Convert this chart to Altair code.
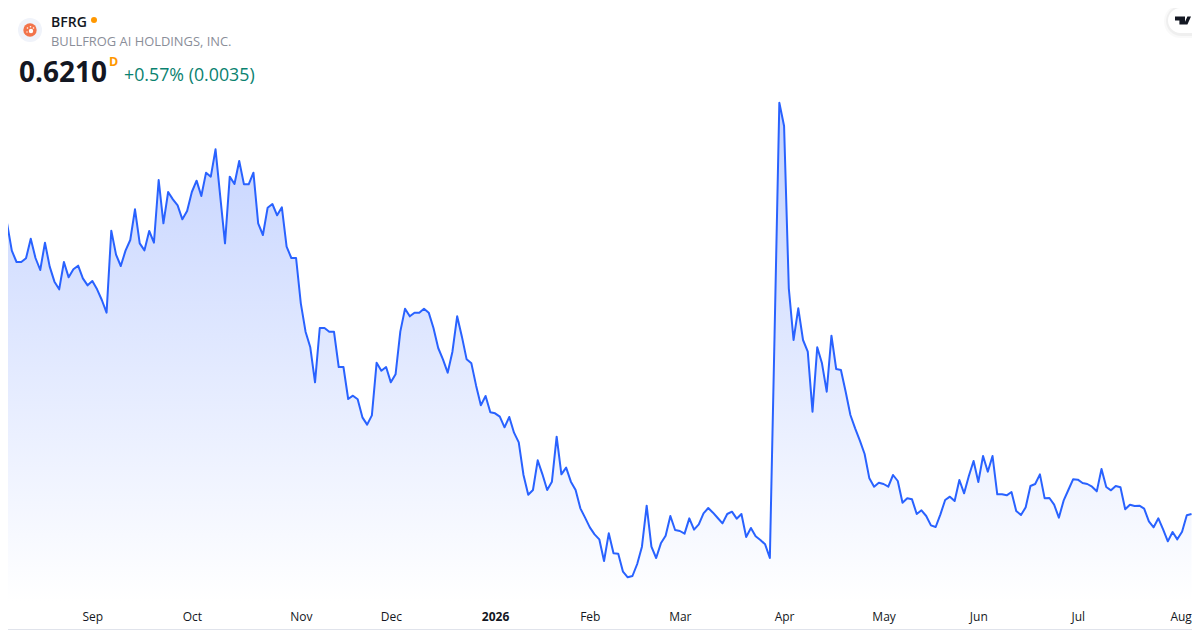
import altair as alt

# Closing prices (one per trading day, 252 sessions)
prices_aug_oct = [
    1.461, 1.493, 1.411, 1.377, 1.377, 1.388, 1.447, 1.389, 1.353, 1.435,
    1.363, 1.318, 1.295, 1.377, 1.331, 1.355, 1.366, 1.328, 1.307, 1.320,
    1.295, 1.263, 1.225, 1.471, 1.399, 1.365, 1.411, 1.443, 1.535, 1.433,
    1.412, 1.470, 1.435, 1.623, 1.493, 1.587, 1.565, 1.547, 1.505, 1.530,
    1.587, 1.621, 1.575, 1.645, 1.633, 1.715, 1.573, 1.433, 1.633, 1.611,
    1.680, 1.610, 1.610, 1.645, 1.493, 1.458, 1.540, 1.551, 1.517, 1.541,
    1.423, 1.389, 1.389,
]
prices_nov_jan = [
    1.253, 1.168, 1.121, 1.016, 1.179, 1.179, 1.168, 1.168, 1.062, 1.062,
    0.966, 0.976, 0.965, 0.911, 0.889, 0.917, 1.075, 1.051, 1.062, 1.016,
    1.040, 1.168, 1.237, 1.214, 1.225, 1.225, 1.237, 1.225, 1.179, 1.119,
    1.085, 1.045, 1.108, 1.214, 1.153, 1.085, 1.073, 1.006, 0.947, 0.975,
    0.926, 0.923, 0.913, 0.881, 0.912, 0.865, 0.836, 0.738, 0.679, 0.693,
    0.782, 0.740, 0.693, 0.718, 0.853, 0.740, 0.760, 0.718, 0.693, 0.638,
    0.610, 0.581, 0.560, 0.545,
]
prices_feb_may = [
    0.480, 0.563, 0.503, 0.502, 0.448, 0.431, 0.435, 0.471, 0.523, 0.646,
    0.523, 0.489, 0.533, 0.556, 0.615, 0.573, 0.570, 0.562, 0.608, 0.574,
    0.590, 0.623, 0.639, 0.625, 0.609, 0.593, 0.621, 0.628, 0.607, 0.621,
    0.552, 0.579, 0.554, 0.543, 0.530, 0.489, 1.163, 1.855, 1.785, 1.298,
    1.143, 1.238, 1.143, 1.108, 0.928, 1.121, 1.073, 0.988, 1.156, 1.056,
    1.053, 0.988, 0.918, 0.878, 0.841, 0.801, 0.728, 0.703, 0.715, 0.711,
    0.703, 0.738, 0.720,
]
prices_may_aug = [
    0.655, 0.668, 0.665, 0.621, 0.632, 0.615, 0.587, 0.582, 0.620, 0.663,
    0.673, 0.660, 0.723, 0.683, 0.735, 0.780, 0.717, 0.795, 0.748, 0.795,
    0.680, 0.680, 0.677, 0.687, 0.630, 0.618, 0.641, 0.705, 0.711, 0.740,
    0.668, 0.669, 0.649, 0.610, 0.661, 0.693, 0.725, 0.724, 0.714, 0.711,
    0.703, 0.689, 0.756, 0.702, 0.692, 0.705, 0.701, 0.635, 0.649, 0.645,
    0.646, 0.637, 0.599, 0.581, 0.608, 0.575, 0.539, 0.567, 0.545, 0.568,
    0.6175, 0.6210,
]
tick_sessions = [19, 40, 63, 82, 104, 124, 143, 165, 186, 206, 227, 248.7]
tick_labels = ["Sep", "Oct", "Nov", "Dec", "2026", "Feb", "Mar", "Apr", "May", "Jun", "Jul", "Aug"]

symbol = "BFRG"
company = "BULLFROG AI HOLDINGS, INC."
last_price = "0.6210"
interval = "D"
change = "+0.57% (0.0035)"

prices = prices_aug_oct + prices_nov_jan + prices_feb_may + prices_may_aug
rows = [{"session": i, "price": p} for i, p in enumerate(prices)]
data = alt.Data(values=rows)

W, H = 1184, 622
FONT = "Open Sans"
OX, OY = 8, 8  # the page margin


def px(v):
    return v - OX


def py(v):
    return v - OY


x_scale = alt.Scale(domain=[1.197, 251.1], nice=False, zero=False)
y_scale = alt.Scale(domain=[0.273, 2.139], nice=False, zero=False)

label_map = ",".join(f"'{s}':'{l}'" for s, l in zip(tick_sessions, tick_labels))
x_axis = alt.Axis(
    values=tick_sessions,
    labelExpr="{" + label_map + "}['' + datum.value]",
    title=None,
    grid=False,
    domain=False,
    ticks=False,
    offset=2,
    labelPadding=-16,
    labelFont=FONT,
    labelFontSize=12,
    labelColor="#131722",
    labelFontWeight=alt.condition("datum.value == 104", alt.value(700), alt.value(400)),
    labelOverlap=False,
    labelFlush=False,
    labelBaseline="middle",
    zindex=1,
)

gradient = alt.Gradient(
    gradient="linear",
    stops=[
        alt.GradientStop(color="#c3d2ff", offset=0),
        alt.GradientStop(color="#ffffff", offset=1),
    ],
    x1=1, x2=1, y1=0, y2=1,
)

area = alt.Chart(data).mark_area(clip=True, color=gradient, line=False).encode(
    x=alt.X("session:Q", scale=x_scale, axis=x_axis),
    y=alt.Y("price:Q", scale=y_scale, axis=None),
    y2=alt.datum(0.357),
)
line = alt.Chart(data).mark_line(clip=True, color="#2962FF", strokeWidth=2, strokeJoin="round").encode(
    x=alt.X("session:Q", scale=x_scale, axis=x_axis),
    y=alt.Y("price:Q", scale=y_scale, axis=None),
)


def one():
    return alt.Data(values=[{"k": 0}])


def text(s, x, y, size, color, weight=400, align="left"):
    return alt.Chart(one()).mark_text(
        text=s, font=FONT, fontSize=size, color=color, fontWeight=weight,
        align=align, baseline="middle",
    ).encode(x=alt.value(px(x)), y=alt.value(py(y)))


def dot(x, y, r, color, shape="circle"):
    return alt.Chart(one()).mark_point(
        shape=shape, filled=True, color=color, opacity=1, size=(2 * r) ** 2, strokeWidth=0,
    ).encode(x=alt.value(px(x)), y=alt.value(py(y)))


def box(x, y, x2, y2, radius, **kw):
    return alt.Chart(one()).mark_rect(cornerRadius=radius, **kw).encode(
        x=alt.value(px(x)), x2=alt.value(px(x2)), y=alt.value(py(y)), y2=alt.value(py(y2)),
    )


card_edge = box(-60, -60, 1260, 629.5, 8, fill="white", stroke="#e0e3eb", strokeWidth=1)
shadow_a = box(1164, 5, 1240, 38, 16, fill="#000000", opacity=0.025)
shadow_b = box(1166, 6, 1240, 36, 15, fill="#000000", opacity=0.04)
pill = box(1168, 8, 1240, 33, 13, fill="white")
tv_logo = dot(1183, 20.5, 8, "#131722",
              shape="M-1,-0.5 L0.25,-0.5 L0.25,0.5 L-0.45,0.5 L-0.45,0 L-1,0 Z "
                    "M0.55,-0.5 L1,-0.5 L0.55,0.5 L0.1,0.5 Z")

layers = [
    card_edge,
    area,
    line,
    shadow_a, shadow_b, pill, tv_logo,
    dot(30, 30, 12, "#f0f3fa"),
    dot(30, 30, 6.7, "#f2744b"),
    dot(31, 31, 2.2, "white"),
    dot(27.5, 28, 0.8, "white"),
    dot(30.5, 26.8, 0.8, "white"),
    dot(33.5, 28, 0.8, "white"),
    dot(27, 32, 0.7, "white"),
    text(symbol, 51, 22.5, 14, "#131722", 600),
    dot(94, 20, 3, "#ff9800"),
    text(company, 51, 42, 12.9, "#8a8e99"),
    text(last_price, 19, 74, 28, "#131722", 700),
    text(interval, 109, 62, 12.5, "#ff9800", 700),
    text(change, 124, 76, 17.8, "#0a8270"),
]

chart = alt.layer(*layers).properties(
    width=W, height=H, padding=0, background="white",
    autosize=alt.AutoSizeParams(type="none", contains="content"),
).configure_view(strokeWidth=0)

chart.save("out.html", embed_options={"renderer": "svg", "actions": False})
